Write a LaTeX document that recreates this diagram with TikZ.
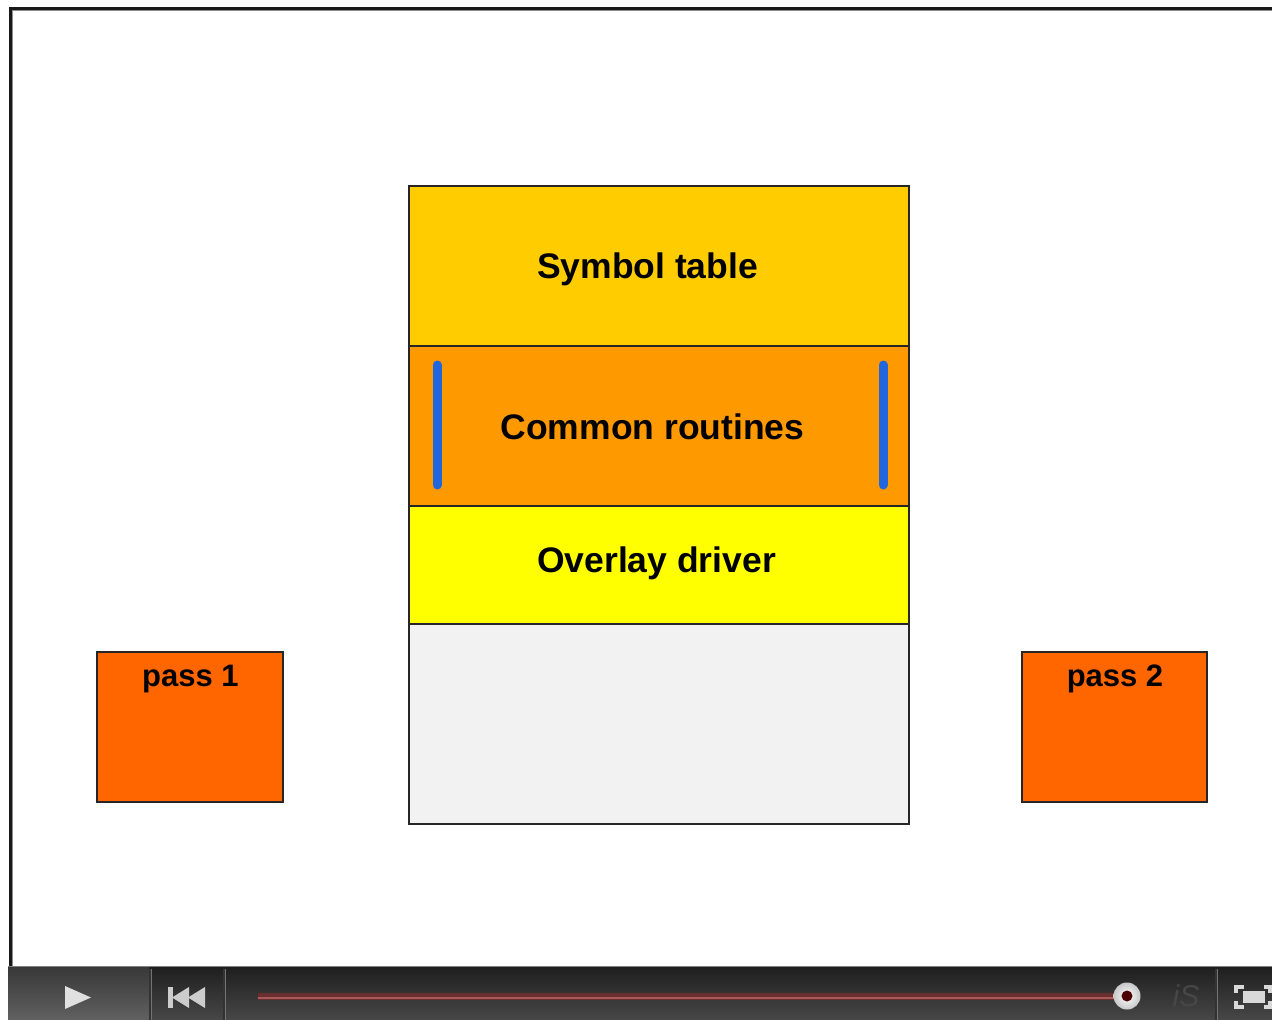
\documentclass[tikz,border=0pt]{standalone}
\usepackage{fontspec}
\setmainfont{Liberation Sans}
\usetikzlibrary{shadings}
\definecolor{symc}{HTML}{FFCC00}
\definecolor{comc}{HTML}{FF9900}
\definecolor{ovlc}{HTML}{FFFF00}
\definecolor{freec}{HTML}{F2F2F2}
\definecolor{passc}{HTML}{FF6600}
\definecolor{bluebar}{HTML}{2266DD}
\definecolor{progc}{HTML}{6A2E2E}
\definecolor{progl}{HTML}{A85A5A}
\tikzset{
  memblock/.style={draw=black!85, line width=1.5pt, inner sep=0pt},
  lbl/.style={font=\bfseries\fontsize{35.5}{38}\selectfont, inner sep=0pt},
  passlbl/.style={font=\bfseries\fontsize{31}{34}\selectfont, inner sep=0pt, anchor=north},
  bluemark/.style={bluebar, line width=9pt, line cap=round},
  sep/.style={black!80, line width=2pt},
  icon/.style={fill=black!15, draw=none}
}
\begin{document}
\begin{tikzpicture}[x=1pt,y=-1pt]
\useasboundingbox (0,0) rectangle (1272,1020);
\fill[white] (0,0) rectangle (1272,1020);
% frame
\draw[black!90, line width=3pt] (10,966) -- (10,8) -- (1272,8);
\draw[black!45, line width=1pt] (12.5,966) -- (12.5,10.5) -- (1272,10.5);
% memory blocks
\node[memblock, fill=symc, minimum width=500pt, minimum height=160pt] (sym) at (659,266) {};
\node[memblock, fill=comc, minimum width=500pt, minimum height=160pt] (com) at (659,426) {};
\node[memblock, fill=ovlc, minimum width=500pt, minimum height=118pt] (ovl) at (659,565) {};
\node[memblock, fill=freec, minimum width=500pt, minimum height=200pt] (free) at (659,724) {};
\node[lbl] (symt) at (647.5,269) {Symbol table};
\node[lbl] (comt) at (652.5,427) {Common routines};
\node[lbl] (ovlt) at (656.5,563) {Overlay driver};
\coordinate (bl1) at (437,365);
\coordinate (bl2) at (437,485);
\coordinate (br1) at (883,365);
\coordinate (br2) at (883,485);
\draw[bluemark] (bl1) -- (bl2);
\draw[bluemark] (br1) -- (br2);
% passes
\node[memblock, fill=passc, minimum width=186pt, minimum height=150pt] (p1) at (190,727) {};
\node[memblock, fill=passc, minimum width=185pt, minimum height=150pt] (p2) at (1114.5,727) {};
\node[passlbl] (p1t) at (190.5,665) {pass 1};
\node[passlbl] (p2t) at (1115,665) {pass 2};
% player bar
\shade[top color=black!88, bottom color=black!72] (8,967) rectangle (1272,1020);
\shade[top color=black!78, bottom color=black!62] (8,967) rectangle (149,1020);
\draw[black!50, line width=1pt] (8,966.5) -- (1272,966.5);
\draw[sep] (150,969) -- (150,1020);
\draw[sep] (224,969) -- (224,1020);
\draw[sep] (1216,969) -- (1216,1020);
\draw[black!55, line width=0.7pt] (151.5,969) -- (151.5,1020);
\draw[black!55, line width=0.7pt] (225.5,969) -- (225.5,1020);
\draw[black!55, line width=0.7pt] (1217.5,969) -- (1217.5,1020);
% play
\fill[black!12] (65,986) -- (91,997.5) -- (65,1009) -- cycle;
% rewind
\fill[black!20] (168,987) rectangle (173,1008);
\fill[black!20] (172,997.5) -- (189,987) -- (189,1008) -- cycle;
\fill[black!20] (188,997.5) -- (205,987) -- (205,1008) -- cycle;
% progress
\coordinate (ps) at (258,996);
\coordinate (pe) at (1125,996);
\draw[progc, line width=7pt] (ps) -- (pe);
\draw[progl, line width=2pt] ([yshift=-1.5pt]ps) -- ([yshift=-1.5pt]pe);
\shade[inner color=white, outer color=black!22] (1127,996) circle (13.5);
\fill[black!50!red!60!black] (1127,996) circle (5.5);
\node[font=\itshape\fontsize{30}{32}\selectfont, text=black!72, inner sep=0pt] (isl) at (1186,996) {iS};
% fullscreen
\fill[icon] (1243,991) rectangle (1265,1003);
\fill[icon] (1234,985) rectangle (1244,989);
\fill[icon] (1234,985) rectangle (1238,993);
\fill[icon] (1234,1005) rectangle (1244,1009);
\fill[icon] (1234,1001) rectangle (1238,1009);
\fill[icon] (1264,985) rectangle (1272,989);
\fill[icon] (1264,1005) rectangle (1272,1009);
\fill[icon] (1268,985) rectangle (1272,993);
\fill[icon] (1268,1001) rectangle (1272,1009);
\end{tikzpicture}
\end{document}
